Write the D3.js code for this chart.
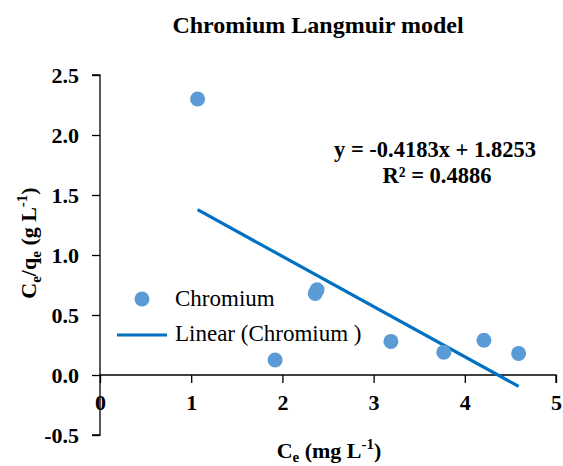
<!DOCTYPE html>
<html><head><meta charset="utf-8">
<script src="https://cdn.jsdelivr.net/npm/d3@7"></script>
<style>body{margin:0;background:#fff}svg{display:block}text{font-family:"Liberation Serif","Times New Roman",serif}</style>
</head><body>
<script>
const xValues = [1.07, 1.92, 2.36, 2.38, 3.19, 3.77, 4.21, 4.59];
const yValues = [2.30, 0.125, 0.68, 0.71, 0.28, 0.19, 0.29, 0.18];
const xTicks = [0, 1, 2, 3, 4, 5];
const yTicks = [-0.5, 0, 0.5, 1.0, 1.5, 2.0, 2.5];
const slope = -0.4183, intercept = 1.8253, r2 = 0.4886;

const W = 563, H = 466;
const svg = d3.select("body").append("svg").attr("width", W).attr("height", H);
const x = d3.scaleLinear().domain([0, 5]).range([100, 556]);
const y = d3.scaleLinear().domain([-0.5, 2.5]).range([435, 75]);

// title
svg.append("text").attr("x", 318).attr("y", 33).attr("text-anchor", "middle")
  .style("font-size", "24px").style("font-weight", "bold").text("Chromium Langmuir model");

// y axis
const ya = svg.append("g").attr("transform", `translate(${x(0)},0)`)
  .call(d3.axisLeft(y).tickValues(yTicks).tickSize(8).tickFormat(d => d.toFixed(1)));
ya.select(".domain").attr("stroke", "#000").attr("stroke-width", 1.3).attr("d", `M-8,${y(2.5)}H0V${y(-0.5)}H-8`);
ya.selectAll(".tick line").attr("stroke", "#000").attr("stroke-width", 1.3);
ya.selectAll(".tick text").attr("x", -21).attr("dy", "0.32em").style("font-size", "22px").style("font-weight", "bold").attr("fill", "#000");

// x axis at y=0
const xa = svg.append("g").attr("transform", `translate(0,${y(0)})`)
  .call(d3.axisBottom(x).tickValues(xTicks).tickSize(8).tickFormat(d => String(d)));
xa.select(".domain").attr("stroke", "#000").attr("stroke-width", 1.3).attr("d", `M${x(0)},0H${x(5)}V8`);
xa.selectAll(".tick line").attr("stroke", "#000").attr("stroke-width", 1.3);
xa.selectAll(".tick text").attr("y", 35).attr("dy", "0").style("font-size", "22px").style("font-weight", "bold").attr("fill", "#000");

// trendline
const xMin = d3.min(xValues), xMax = d3.max(xValues);
svg.append("line").attr("x1", x(xMin)).attr("y1", y(slope * xMin + intercept))
  .attr("x2", x(xMax)).attr("y2", y(slope * xMax + intercept))
  .attr("stroke", "#0070C0").attr("stroke-width", 3.2);

// points
svg.selectAll("circle.pt").data(xValues.map((v, i) => [v, yValues[i]])).enter().append("circle")
  .attr("class", "pt").attr("cx", d => x(d[0])).attr("cy", d => y(d[1])).attr("r", 7.5).attr("fill", "#5B9BD5");

// equation
svg.append("text").attr("x", 435).attr("y", 157).attr("text-anchor", "middle")
  .style("font-size", "22.5px").style("font-weight", "bold").text(`y = ${slope}x + ${intercept}`);
svg.append("text").attr("x", 437).attr("y", 183).attr("text-anchor", "middle")
  .style("font-size", "22.5px").style("font-weight", "bold").text(`R² = ${r2}`);

// legend
svg.append("circle").attr("cx", 142).attr("cy", 299).attr("r", 7.5).attr("fill", "#5B9BD5");
svg.append("text").attr("x", 175).attr("y", 306).style("font-size", "23px").text("Chromium");
svg.append("line").attr("x1", 117).attr("x2", 167).attr("y1", 335).attr("y2", 335).attr("stroke", "#0070C0").attr("stroke-width", 3.2);
svg.append("text").attr("x", 175).attr("y", 341).style("font-size", "23px").text("Linear (Chromium )");

// x axis title
const xt = svg.append("text").attr("x", 329).attr("y", 458).attr("text-anchor", "middle")
  .style("font-size", "22px").style("font-weight", "bold");
xt.append("tspan").text("C");
xt.append("tspan").attr("dy", 4).style("font-size", "15px").text("e");
xt.append("tspan").attr("dy", -4).text(" (mg L");
xt.append("tspan").attr("dy", -9).style("font-size", "15px").text("-1");
xt.append("tspan").attr("dy", 9).text(")");

// y axis title
const yt = svg.append("text").attr("transform", "translate(36,243) rotate(-90)").attr("text-anchor", "middle")
  .style("font-size", "22px").style("font-weight", "bold");
yt.append("tspan").text("C");
yt.append("tspan").attr("dy", 5).style("font-size", "15px").text("e");
yt.append("tspan").attr("dy", -5).text("/q");
yt.append("tspan").attr("dy", 5).style("font-size", "15px").text("e");
yt.append("tspan").attr("dy", -5).text(" (g L");
yt.append("tspan").attr("dy", -9).style("font-size", "15px").text("-1");
yt.append("tspan").attr("dy", 9).text(")");
</script>
</body></html>
